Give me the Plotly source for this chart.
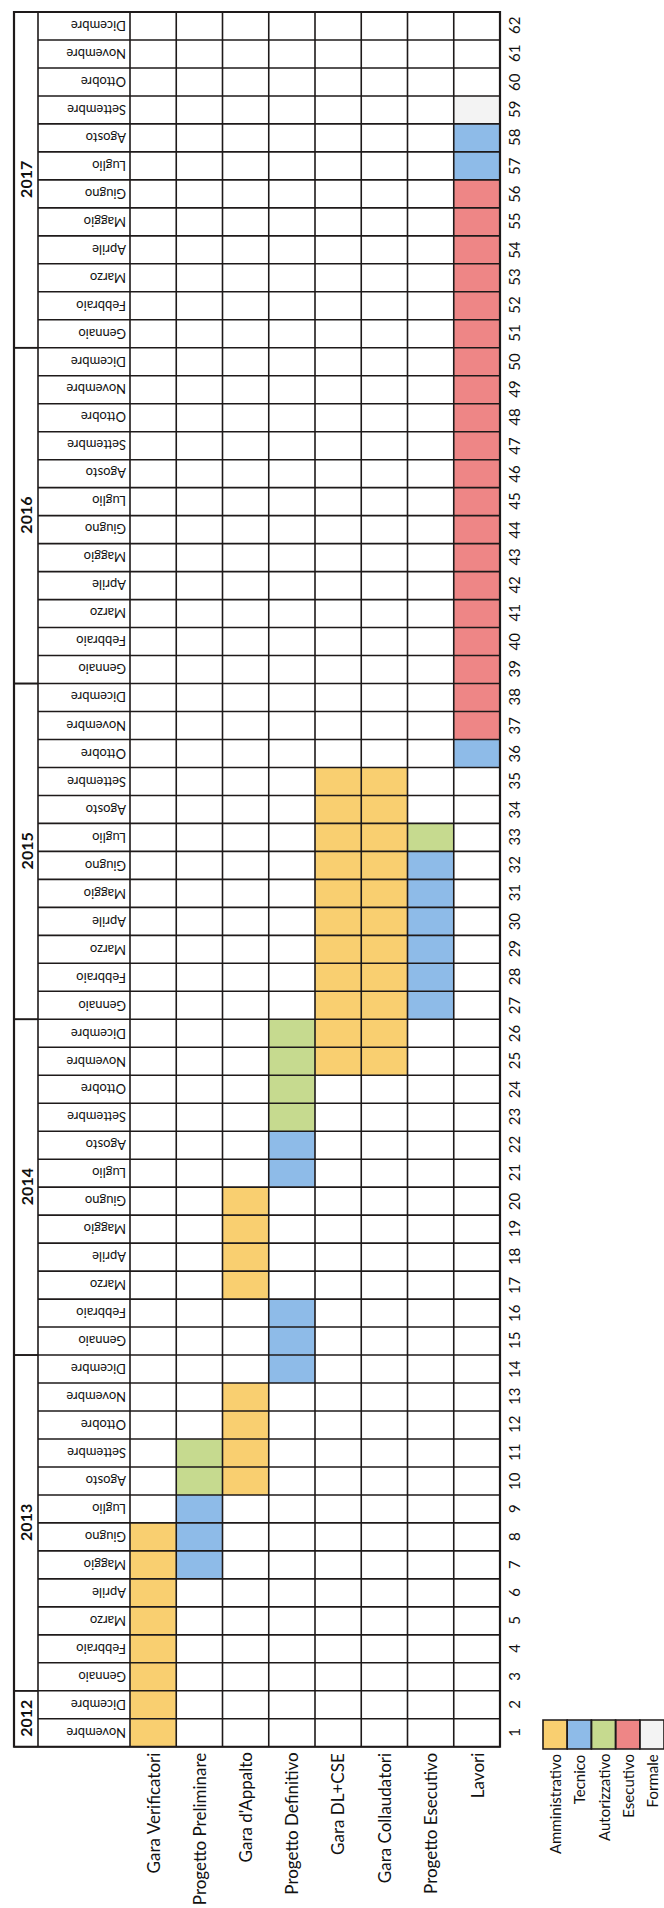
import plotly.graph_objects as go

# ---------------- data ----------------
tasks = ["Gara Verificatori", "Progetto Preliminare", "Gara d'Appalto",
         "Progetto Definitivo", "Gara DL+CSE", "Gara Collaudatori",
         "Progetto Esecutivo", "Lavori"]
categories = ["Amministrativo", "Tecnico", "Autorizzativo", "Esecutivo", "Formale"]
cat_colors = ["#F9CF70", "#8EBBE8", "#C6DA8F", "#EE8686", "#F3F3F3"]
month_names = ["Gennaio", "Febbraio", "Marzo", "Aprile", "Maggio", "Giugno",
               "Luglio", "Agosto", "Settembre", "Ottobre", "Novembre", "Dicembre"]
first_month_index = 10      # Novembre
first_year = 2012
n_months = 62

phase_task = ["Gara Verificatori", "Progetto Preliminare", "Progetto Preliminare",
              "Gara d'Appalto", "Gara d'Appalto", "Progetto Definitivo",
              "Progetto Definitivo", "Progetto Definitivo", "Gara DL+CSE",
              "Gara Collaudatori", "Progetto Esecutivo", "Progetto Esecutivo",
              "Lavori", "Lavori", "Lavori", "Lavori"]
phase_cat = ["Amministrativo", "Tecnico", "Autorizzativo",
             "Amministrativo", "Amministrativo", "Tecnico",
             "Tecnico", "Autorizzativo", "Amministrativo",
             "Amministrativo", "Tecnico", "Autorizzativo",
             "Tecnico", "Esecutivo", "Tecnico", "Formale"]
phase_start = [1, 7, 10, 10, 17, 14, 21, 23, 25, 25, 27, 33, 36, 37, 57, 59]
phase_end = [8, 9, 11, 13, 20, 16, 22, 26, 35, 35, 32, 33, 36, 56, 58, 59]

# ---------------- geometry (pixels) ----------------
W, H = 664, 1908
COL_W = 46.25      # px per task column
ROW_H = 27.98      # px per month row
LEFT_PX = 14
TOP_PX = 12
YEAR_W = 24 / COL_W
MONTH_W = 92 / COL_W
x_month_left = -MONTH_W
x_year_left = x_month_left - YEAR_W
x0 = x_year_left - LEFT_PX / COL_W
x1 = x0 + W / COL_W
y_top = n_months + 0.5 + TOP_PX / ROW_H
y_bot = y_top - H / ROW_H

def px_x(p):
    return x0 + p / COL_W

def px_y(p):
    return y_top - p / ROW_H

FONT = "Lato, 'Open Sans', sans-serif"
LINE = "#1e1a1a"

# ---------------- build grid ----------------
nt = len(tasks)
z = [[None] * nt for _ in range(n_months)]
for t, c, s, e in zip(phase_task, phase_cat, phase_start, phase_end):
    ti = tasks.index(t)
    ci = categories.index(c)
    for m in range(s, e + 1):
        z[m - 1][ti] = ci

ncat = len(categories)
colorscale = []
for i, col in enumerate(cat_colors):
    colorscale.append([i / ncat, col])
    colorscale.append([(i + 1) / ncat, col])

fig = go.Figure()
fig.add_trace(go.Heatmap(
    x=list(range(nt + 1)),
    y=[m + 0.5 for m in range(n_months + 1)],
    z=z, colorscale=colorscale, zmin=-0.5, zmax=ncat - 0.5,
    showscale=False, hoverinfo="skip"))

# legend swatches
lg_left = px_x(543)
lg_w = 24.2 / COL_W
lg_top = px_y(1720)
lg_bot = px_y(1749)
fig.add_trace(go.Heatmap(
    x=[lg_left + i * lg_w for i in range(ncat + 1)],
    y=[lg_bot, lg_top],
    z=[list(range(ncat))], colorscale=colorscale, zmin=-0.5, zmax=ncat - 0.5,
    showscale=False, hoverinfo="skip"))

shapes = []
def line(xa, ya, xb, yb, w=1.6):
    shapes.append(dict(type="line", xref="x", yref="y", x0=xa, y0=ya, x1=xb, y1=yb,
                       line=dict(color=LINE, width=w)))

# horizontal row lines (month col + tasks)
for m in range(n_months + 1):
    line(x_month_left, m + 0.5, nt, m + 0.5)
# vertical lines
for xv in [x_year_left, x_month_left] + list(range(nt + 1)):
    line(xv, 0.5, xv, n_months + 0.5)

# year blocks
annotations = []
years = []
m = 0
while m < n_months:
    mi = (first_month_index + m) % 12
    yr = first_year + (first_month_index + m) // 12
    cnt = min(12 - mi, n_months - m)
    years.append((yr, m + 1, m + cnt))
    m += cnt
for yr, a, b in years:
    line(x_year_left, a - 0.5, x_month_left, a - 0.5)
    line(x_year_left, b + 0.5, x_month_left, b + 0.5)
    annotations.append(dict(x=(x_year_left + x_month_left) / 2, y=(a + b) / 2,
                            text="<b>%d</b>" % yr, textangle=-90, showarrow=False,
                            font=dict(family=FONT, size=16, color="#111")))

# outer border
shapes.append(dict(type="rect", xref="x", yref="y", x0=x_year_left, y0=0.5, x1=nt,
                   y1=n_months + 0.5, line=dict(color=LINE, width=2.2)))
# legend borders
for i in range(ncat):
    shapes.append(dict(type="rect", xref="x", yref="y", x0=lg_left + i * lg_w, y0=lg_bot,
                       x1=lg_left + (i + 1) * lg_w, y1=lg_top,
                       line=dict(color=LINE, width=1.6)))

# month names + numbers
for k in range(n_months):
    mi = (first_month_index + k) % 12
    annotations.append(dict(x=0, y=k + 1, xshift=-2, text=month_names[mi], textangle=180,
                            xanchor="right", showarrow=False,
                            font=dict(family=FONT, size=13, color="#111")))
    annotations.append(dict(x=px_x(514), y=k + 1, text=str(k + 1), textangle=-90,
                            showarrow=False, font=dict(family=FONT, size=15, color="#111")))

# task labels
for i, t in enumerate(tasks):
    annotations.append(dict(x=i + 0.5, y=0.5, yshift=-4, text=t, textangle=-90,
                            yanchor="top", showarrow=False,
                            font=dict(family=FONT, size=17, color="#111")))
# legend labels
for i, c in enumerate(categories):
    annotations.append(dict(x=lg_left + (i + 0.5) * lg_w, y=lg_bot, yshift=-3, text=c,
                            textangle=-90, yanchor="top", showarrow=False,
                            font=dict(family=FONT, size=15, color="#111")))

fig.update_layout(
    width=W, height=H, autosize=False,
    margin=dict(l=0, r=0, t=0, b=0),
    paper_bgcolor="white", plot_bgcolor="white",
    xaxis=dict(range=[x0, x1], visible=False, fixedrange=True),
    yaxis=dict(range=[y_bot, y_top], visible=False, fixedrange=True),
    shapes=shapes, annotations=annotations, showlegend=False,
)
fig.write_html("out.html")
